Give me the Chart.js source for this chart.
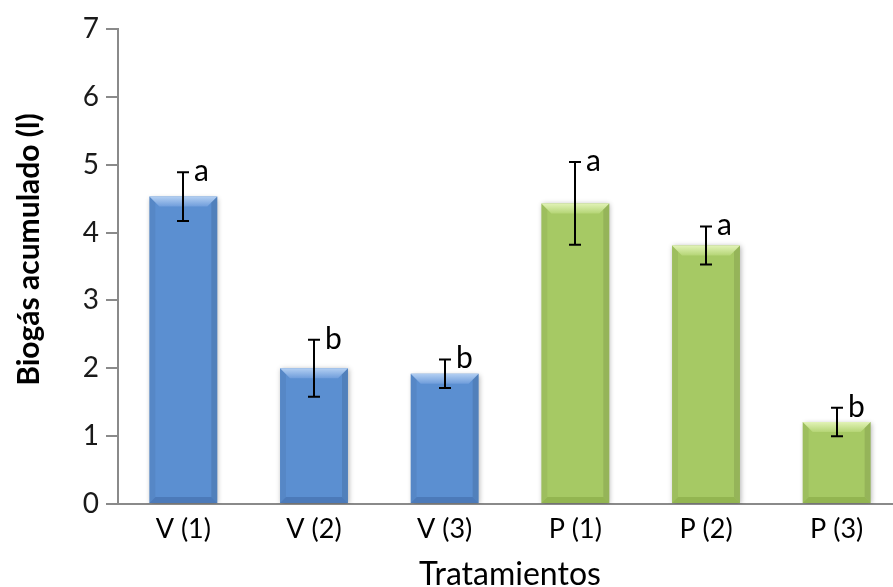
<!DOCTYPE html>
<html>
<head>
<meta charset="utf-8">
<script src="https://cdn.jsdelivr.net/npm/chart.js@4/dist/chart.umd.min.js"></script>
<style>
  html, body { margin: 0; padding: 0; background: #fff; overflow: hidden; width: 893px; height: 587px; }
  #wrap { position: absolute; left: 0; top: 0; width: 910px; height: 587px; }
</style>
</head>
<body>
<div id="wrap"><canvas id="chart" width="910" height="587"></canvas></div>
<script>
// Cumulative biogas per treatment (litres), with standard error and significance group
const categories = ['V (1)', 'V (2)', 'V (3)', 'P (1)', 'P (2)', 'P (3)'];
const biogas = [4.53, 2.00, 1.92, 4.43, 3.81, 1.21];
const errors = [0.36, 0.42, 0.21, 0.61, 0.28, 0.21];
const groups = ['a', 'b', 'b', 'a', 'a', 'b'];
const yTicks = [0, 1, 2, 3, 4, 5, 6, 7];

// colour families: V treatments blue, P treatments green
const palette = {
  V: { left: '#5384c5', mid: '#5b8fd1', right: '#4373b2', top1: '#b3cff2', top2: '#6f9ddb', bottom: '#3f6aa5' },
  P: { left: '#9dbf58', mid: '#a6c964', right: '#8aab45', top1: '#e2f3b8', top2: '#b5d576', bottom: '#84a442' }
};
const familyOf = i => categories[i].charAt(0);

const FONT = 'Lato, "Open Sans", "DejaVu Sans", sans-serif';

// body fill: horizontal gradient across each bar
function barFill(ctx) {
  const el = ctx.element;
  if (!el || el.x === undefined || !isFinite(el.x)) return palette[familyOf(ctx.dataIndex)].mid;
  const p = palette[familyOf(ctx.dataIndex)];
  const w = el.width || 60;
  const g = ctx.chart.ctx.createLinearGradient(el.x - w / 2, 0, el.x + w / 2, 0);
  g.addColorStop(0, p.left);
  g.addColorStop(0.45, p.mid);
  g.addColorStop(1, p.right);
  return g;
}

// soft shadow under the bars and bevelled edges on top of them
const bevelPlugin = {
  id: 'bevel',
  beforeDatasetsDraw(chart) {
    const c = chart.ctx;
    c.save();
    c.shadowColor = 'rgba(0,0,0,0.30)';
    c.shadowBlur = 5;
    c.shadowOffsetX = 1;
    c.shadowOffsetY = 1;
  },
  afterDatasetsDraw(chart) {
    const c = chart.ctx;
    c.restore();
    const meta = chart.getDatasetMeta(0);
    meta.data.forEach((bar, i) => {
      const { x, y, base, width } = bar.getProps(['x', 'y', 'base', 'width'], true);
      const p = palette[familyOf(i)];
      const L = x - width / 2, R = x + width / 2, T = y, B = base;
      const b = Math.min(10, (B - T) / 3);
      c.save();
      // top bevel
      let g = c.createLinearGradient(0, T, 0, T + b);
      g.addColorStop(0, p.top1);
      g.addColorStop(1, p.top2);
      c.fillStyle = g;
      c.beginPath();
      c.moveTo(L, T); c.lineTo(R, T); c.lineTo(R - b, T + b); c.lineTo(L + b, T + b); c.closePath();
      c.fill();
      // right bevel
      c.fillStyle = 'rgba(0,0,0,0.10)';
      c.beginPath();
      c.moveTo(R, T); c.lineTo(R, B); c.lineTo(R - b * 0.6, B - b * 0.6); c.lineTo(R - b * 0.6, T + b * 0.6); c.closePath();
      c.fill();
      // left bevel
      c.fillStyle = 'rgba(0,0,0,0.05)';
      c.beginPath();
      c.moveTo(L, T); c.lineTo(L, B); c.lineTo(L + b * 0.6, B - b * 0.6); c.lineTo(L + b * 0.6, T + b * 0.6); c.closePath();
      c.fill();
      // bottom bevel
      c.fillStyle = p.bottom;
      c.globalAlpha = 0.55;
      c.beginPath();
      c.moveTo(L, B); c.lineTo(R, B); c.lineTo(R - b * 0.6, B - b * 0.6); c.lineTo(L + b * 0.6, B - b * 0.6); c.closePath();
      c.fill();
      c.restore();
    });
  }
};

// error bars and significance letters
const errorPlugin = {
  id: 'errorbars',
  afterDatasetsDraw(chart) {
    const c = chart.ctx;
    const yScale = chart.scales.y;
    const meta = chart.getDatasetMeta(0);
    c.save();
    c.strokeStyle = '#000';
    c.lineWidth = 2;
    meta.data.forEach((bar, i) => {
      const x = Math.round(bar.x);
      const hi = yScale.getPixelForValue(biogas[i] + errors[i]);
      const lo = yScale.getPixelForValue(biogas[i] - errors[i]);
      c.beginPath();
      c.moveTo(x, hi); c.lineTo(x, lo);
      c.moveTo(x - 6, hi); c.lineTo(x + 6, hi);
      c.moveTo(x - 6, lo); c.lineTo(x + 6, lo);
      c.stroke();
      c.fillStyle = '#000';
      c.font = '30px ' + FONT;
      c.textAlign = 'left';
      c.textBaseline = 'alphabetic';
      c.fillText(groups[i], x + 11, hi + 9);
    });
    c.restore();
  }
};

// rotated y-axis title
const yTitlePlugin = {
  id: 'ytitle',
  afterDraw(chart) {
    const c = chart.ctx;
    const a = chart.chartArea;
    c.save();
    c.translate(29, (a.top + a.bottom) / 2 - 17);
    c.rotate(-Math.PI / 2);
    c.fillStyle = '#000';
    c.font = 'bold 30px ' + FONT;
    c.textAlign = 'center';
    c.textBaseline = 'middle';
    c.fillText('Biogás acumulado (l)', 0, 0);
    c.restore();
  }
};

new Chart(document.getElementById('chart'), {
  type: 'bar',
  data: {
    labels: categories,
    datasets: [{
      data: biogas,
      backgroundColor: barFill,
      borderWidth: 0,
      categoryPercentage: 1,
      barPercentage: 0.52
    }]
  },
  options: {
    responsive: false,
    animation: false,
    devicePixelRatio: 1,
    layout: { padding: { top: 29, right: 8, left: 0, bottom: 0 } },
    plugins: { legend: { display: false }, tooltip: { enabled: false } },
    scales: {
      x: {
        grid: { display: false },
        border: { display: true, color: '#8a8a8a', width: 2 },
        ticks: { color: '#000', font: { family: FONT, size: 27 }, padding: 1 },
        title: { display: true, text: 'Tratamientos', color: '#000', font: { family: FONT, size: 32, lineHeight: 0.75 }, padding: 0 },
        afterFit(scale) { scale.height = 83; }
      },
      y: {
        min: 0,
        max: 7,
        afterBuildTicks(scale) { scale.ticks = yTicks.map(v => ({ value: v })); },
        grid: { drawOnChartArea: false, drawTicks: true, tickLength: 12, color: '#8a8a8a', lineWidth: 2 },
        border: { display: true, color: '#8a8a8a', width: 2 },
        ticks: { color: '#1a1a1a', font: { family: FONT, size: 28 }, padding: 7 },
        afterFit(scale) { scale.width = 118; }
      }
    }
  },
  plugins: [bevelPlugin, errorPlugin, yTitlePlugin]
});
</script>
</body>
</html>
